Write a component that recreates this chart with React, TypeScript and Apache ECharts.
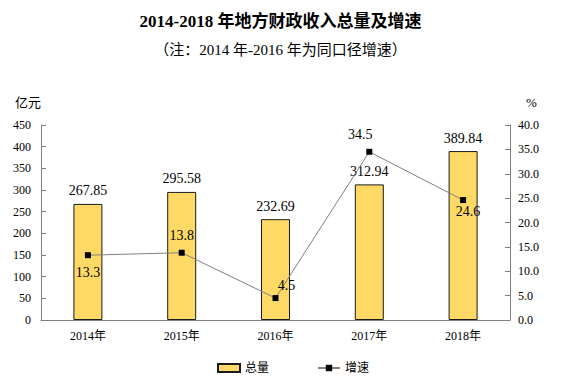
import React, { useEffect, useRef } from "react";
import * as echarts from "echarts";

const categories = ["2014年", "2015年", "2016年", "2017年", "2018年"];
const totals = [267.85, 295.58, 232.69, 312.94, 389.84];
const growth = [13.3, 13.8, 4.5, 34.5, 24.6];
const growthLabelPos = ["bottom", "top", "top", "top", "bottom"];
const growthLabelOffset = [[0, 0], [0, 0], [11, 4], [-9, 0], [5, -6]];

const FONT = "'Liberation Serif', 'Noto Sans CJK SC', serif";

export default function App() {
  const ref = useRef<HTMLDivElement>(null);
  useEffect(() => {
    if (!ref.current) return;
    const chart = echarts.init(ref.current, undefined, { renderer: "svg" });
    chart.setOption({
      animation: false,
      textStyle: { fontFamily: FONT },
      title: [
        {
          text: "2014-2018 年地方财政收入总量及增速",
          left: "center",
          top: 8,
          textStyle: { fontFamily: FONT, fontSize: 17, fontWeight: "bold", color: "#000" },
        },
        {
          text: "（注：2014 年-2016 年为同口径增速）",
          left: "center",
          top: 37,
          textStyle: { fontFamily: FONT, fontSize: 15, fontWeight: "normal", color: "#000" },
        },
      ],
      legend: {
        bottom: 6,
        left: 212,
        itemGap: 48,
        itemWidth: 22,
        itemHeight: 8,
        textStyle: { fontFamily: FONT, fontSize: 12, color: "#000" },
        data: [
          { name: "总量", icon: "rect" },
          { name: "增速" },
        ],
      },
      grid: { left: 41, right: 51, top: 125, bottom: 65 },
      xAxis: {
        type: "category",
        data: categories,
        axisLine: { lineStyle: { color: "#808080" } },
        axisTick: { inside: true, alignWithLabel: false, lineStyle: { color: "#808080" } },
        axisLabel: { color: "#000", fontSize: 12, margin: 10, fontFamily: FONT },
      },
      yAxis: [
        {
          type: "value",
          min: 0,
          max: 450,
          interval: 50,
          name: "亿元",
          nameLocation: "end",
          nameGap: 16,
          nameTextStyle: { color: "#000", fontSize: 13, align: "right", padding: [0, 0, 0, 0], fontFamily: FONT },
          axisLine: { show: true, lineStyle: { color: "#808080" } },
          axisTick: { show: true, inside: true, lineStyle: { color: "#808080" } },
          axisLabel: { color: "#000", fontSize: 12, margin: 10, fontFamily: FONT },
          splitLine: { show: false },
        },
        {
          type: "value",
          min: 0,
          max: 40,
          interval: 5,
          name: "%",
          nameLocation: "end",
          nameGap: 16,
          nameTextStyle: { color: "#000", fontSize: 13, align: "left", padding: [0, 0, 0, 16], fontFamily: FONT },
          axisLine: { show: true, lineStyle: { color: "#808080" } },
          axisTick: { show: true, inside: true, lineStyle: { color: "#808080" } },
          axisLabel: {
            color: "#000",
            fontSize: 12,
            margin: 8,
            fontFamily: FONT,
            formatter: (v: number) => v.toFixed(1),
          },
          splitLine: { show: false },
        },
      ],
      series: [
        {
          name: "总量",
          type: "bar",
          data: totals,
          barWidth: 29,
          itemStyle: { color: "#FFD966", borderColor: "#1a1a1a", borderWidth: 1 },
          label: {
            show: true,
            position: "top",
            distance: 6,
            color: "#000",
            fontSize: 14,
            fontFamily: FONT,
            formatter: (p: any) => p.value.toFixed(2),
          },
        },
        {
          name: "增速",
          type: "line",
          yAxisIndex: 1,
          data: growth.map((v, i) => ({
            value: v,
            label: {
              position: growthLabelPos[i],
              offset: growthLabelOffset[i],
            },
          })),
          symbol: "rect",
          symbolSize: 6,
          lineStyle: { color: "#808080", width: 1 },
          itemStyle: { color: "#000" },
          label: {
            show: true,
            color: "#000",
            fontSize: 14,
            fontFamily: FONT,
            distance: 7,
            formatter: (p: any) => p.value.toFixed(1),
          },
        },
      ],
    });
    return () => chart.dispose();
  }, []);
  return <div ref={ref} style={{ width: 561, height: 385, position: "absolute", left: 0, top: 0 }} />;
}
